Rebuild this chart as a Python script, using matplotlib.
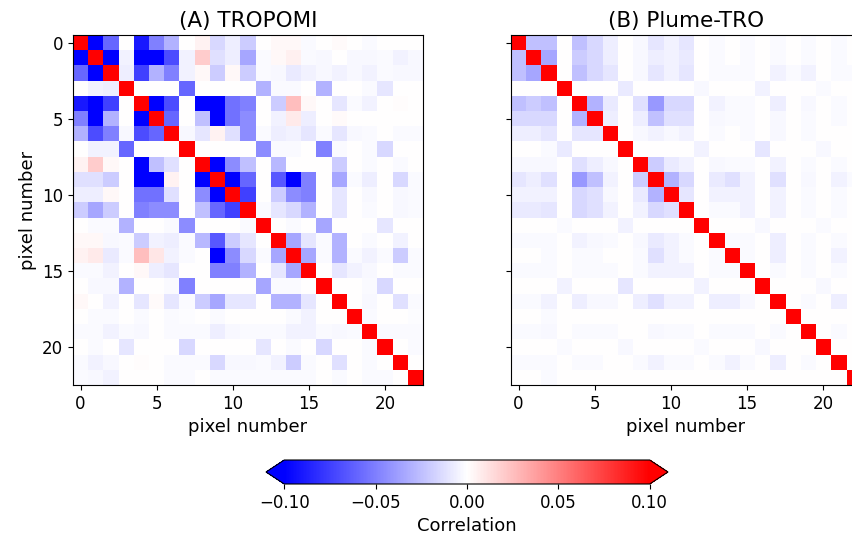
import numpy as np
import matplotlib
matplotlib.use('Agg')
import matplotlib.pyplot as plt

# correlation values in units of 0.01 (diagonal = 1.0 -> 100)
corr_tropomi = [
    [100, -10, -6, 0, -9, -5, -3, 0, 0.5, -1.5, -0.7, -2, 0, 0.3, 0.3, -0.2, 0, 0.2, 0, -0.2, 0, 0, 0],
    [-10, 100, -10, -0.5, -10, -10, -7, -0.5, 2, -1.2, -0.7, -3.5, -0.2, 0.3, 0.6, -0.2, -0.3, 0, -0.3, -0.3, -0.2, -0.5, -0.3],
    [-6, -10, 100, -0.7, -7.5, -3, -5, -0.5, 0.3, -2, 0.3, -2, -0.2, -0.3, -0.8, -0.5, -0.3, -0.5, -0.3, -0.5, -0.2, -0.3, -0.3],
    [0, -0.5, -0.7, 100, 0, 0, 0, -6, 0, 0, 0, 0, -3, -0.2, -0.2, 0, -3, 0, 0, -0.2, -1, 0, 0],
    [-9, -10, -7.5, 0, 100, -10, -7, 0, -10, -10, -5.5, -5, 0, -2, 2.5, 0.3, 0, -1, -0.2, -0.5, 0, 0.1, 0],
    [-5, -10, -3, 0, -10, 100, -6, 0, -2.5, -10, -5.5, -4.5, 0, -0.5, 0.8, -0.7, 0, 0.2, 0, 0, 0, 0, 0],
    [-3, -7, -5, -0.3, -7, -6, 100, -0.3, -1, 0.5, -1.2, -4.5, -0.2, -0.7, -0.5, -1, -0.2, -1, -0.3, -0.2, 0, -0.2, -0.2],
    [0, -0.5, -0.5, -6, 0, 0, 0, 100, 0, 0, 0, 0, -4.5, -0.2, -0.2, 0, -5, -0.2, 0, -0.2, -1.5, 0, 0],
    [0.5, 2, 0.3, 0, -10, -2.5, -1.2, 0, 100, -10, -4.5, -2.5, 0, -2.8, 0, 0, 0, -2, 0, -0.2, 0, -0.2, 0],
    [-1.2, -1.2, -2, 0, -10, -10, 0.5, 0, -10, 100, -10, -6, 0, -6.5, -10, -5, 0, -3.5, -0.2, -0.7, 0, -1.5, -0.2],
    [-0.7, -0.7, 0.3, 0, -5.5, -5.5, -1.2, 0, -4.5, -10, 100, -7.5, 0, -2, -4.5, -5, 0, -1, 0, -0.3, 0, -0.3, -0.2],
    [-2, -3.5, -2, 0, -5, -4.5, -4.5, 0, -2.5, -6, -7.5, 100, -0.2, -1, -1.5, -3, 0, -1, 0, -0.2, 0, -0.3, -0.2],
    [0, -0.2, -0.2, -3, 0, 0, -0.2, -4.5, 0, 0, 0, -0.2, 100, 0, -0.2, 0, -3.5, 0, 0, 0, -1, 0, 0],
    [0.3, 0.3, -0.3, -0.2, -2, -0.5, -0.7, -0.2, -2.8, -6.5, -2, -1, 0, 100, -3.5, -1, -0.2, -3, 0, -0.2, 0, -0.5, 0],
    [0.5, 0.8, -0.8, -0.2, 2.5, 1, -0.5, -0.2, 0, -10, -4.5, -1.5, -0.2, -3.5, 100, -3.5, -0.2, -3, -0.2, -0.5, -0.2, -2, -0.2],
    [-0.2, -0.2, -0.5, 0, 0.3, -0.7, -1, 0, 0, -5, -5, -3, 0, -1, -3.5, 100, 0, -1, -0.5, -0.3, 0, -0.2, -0.2],
    [0, -0.3, -0.3, -3, 0, 0, -0.2, -5, 0, 0, 0, 0, -3.5, -0.2, -0.2, 0, 100, 0, 0, -0.2, -1.5, 0, 0],
    [0.3, 0, -0.5, 0, -1, 0.2, -1, -0.2, -2, -3.5, -1, -1, 0, -3, -3, -1, 0, 100, 0, -0.3, 0, -1.2, -0.2],
    [0, -0.2, -0.2, 0, -0.2, 0, -0.2, -0.1, 0, -0.2, 0, 0, 0, 0, -0.2, -0.5, 0, 0, 100, -0.2, 0, 0, -0.1],
    [-0.2, -0.2, -0.5, -0.2, -0.3, 0, -0.2, -0.2, -0.2, -0.7, -0.3, -0.2, -0.2, -0.2, -0.5, -0.5, -0.2, -0.3, -0.2, 100, -0.2, -0.2, -0.2],
    [0, -0.2, 0, -1, 0, 0, 0, -1.5, 0, 0, 0, 0, -1, 0, -0.2, 0, -1.5, 0, 0, -0.2, 100, 0, -0.2],
    [-0.2, -0.5, -0.3, 0, 0.1, 0, -0.2, -0.2, -0.2, -1.5, -0.3, -0.3, -0.2, -0.5, -2, -0.2, 0, -1.2, 0, -0.2, 0, 100, 0],
    [-0.2, -0.3, -0.5, 0, 0, 0, -0.2, -0.2, 0, -0.2, -0.2, -0.2, -0.2, -0.2, -0.2, -0.2, 0, -0.2, 0, -0.2, -0.2, 0, 100],
]

corr_plume = [
    [100, -2.5, -2.5, 0, -2.5, -1.5, -0.7, 0, -0.3, -1, -0.5, -1, 0, -0.2, 0, -0.2, 0, -0.2, 0, -0.2, 0, -0.2, 0],
    [-2.5, 100, -3.5, 0, -2, -1.5, -0.7, 0, -0.3, -0.7, -0.5, -0.8, 0, -0.2, 0, -0.2, 0, -0.2, 0, -0.2, 0, -0.2, 0],
    [-2.5, -3.5, 100, 0, -2.5, -1.5, -1, 0, -0.3, -1, -0.5, -1, 0, -0.2, -0.2, -0.2, 0, -0.5, -0.2, -0.5, 0, -0.2, -0.2],
    [0, 0, 0, 100, 0, 0, 0, -0.8, 0, 0, 0, 0, -0.3, 0, 0, 0, -0.5, 0, 0, 0, -0.2, 0, 0],
    [-2.5, -2, -2.5, 0, 100, -3, -0.8, 0, -1.2, -4, -1.5, -1.5, 0, -0.5, -0.2, -0.2, 0, -0.7, 0, -0.3, 0, -0.2, 0],
    [-1.5, -1.5, -1.5, 0, -3, 100, -0.7, 0, -0.7, -2.5, -1.2, -1.2, 0, -0.3, -0.2, -0.2, 0, -0.3, 0, -0.2, 0, -0.2, 0],
    [-0.7, -0.7, -1, 0, -1, -1, 100, 0, -0.3, -0.5, -0.3, -0.5, 0, -0.2, 0, -0.2, 0, -0.3, 0, -0.2, 0, 0, 0],
    [0, 0, -0.2, -0.8, 0, 0, 0, 100, 0, 0, 0, 0, -0.5, 0, 0, 0, -1, 0, 0, 0, -0.3, 0, 0],
    [-0.3, -0.3, -0.3, 0, -1.2, -0.7, -0.3, 0, 100, -2, -0.8, -0.5, 0, -0.3, -0.2, -0.2, 0, -0.5, 0, -0.2, 0, -0.2, 0],
    [-1, -0.7, -1.2, 0, -4, -2.5, -0.5, 0, -2, 100, -3, -1.5, 0, -0.8, -1.2, -0.5, 0, -1.2, 0, -0.3, 0, -0.5, -0.2],
    [-0.5, -0.5, -0.5, 0, -1.5, -1.2, -0.3, 0, -0.8, -3, 100, -1, 0, -0.5, -0.5, -0.5, 0, -0.5, 0, -0.2, 0, -0.2, 0],
    [-0.8, -0.8, -1, 0, -1.5, -1.2, -0.5, 0, -0.5, -1.5, -1.2, 100, 0, -0.2, -0.2, -0.5, 0, -0.5, 0, -0.2, 0, -0.2, 0],
    [0, 0, 0, -0.2, 0, 0, 0, -0.5, 0, 0, 0, 0, 100, 0, 0, 0, -0.3, 0, 0, 0, -0.2, 0, 0],
    [-0.2, -0.2, -0.2, 0, -0.5, -0.3, -0.2, 0, -0.3, -0.8, -0.5, -0.2, 0, 100, -0.2, -0.2, 0, -0.7, 0, -0.2, 0, -0.2, 0],
    [0, 0, -0.2, 0, -0.2, -0.2, 0, 0, -0.2, -1.2, -0.5, -0.2, 0, -0.2, 100, -0.2, 0, -0.7, 0, -0.2, 0, -0.5, 0],
    [-0.2, -0.2, -0.2, 0, -0.2, -0.2, -0.2, 0, -0.2, -0.5, -0.5, -0.5, 0, -0.2, -0.2, 100, 0, -0.2, 0, -0.2, 0, -0.2, 0],
    [0, 0, 0, -0.5, 0, 0, 0, -1, 0, 0, 0, 0, -0.5, 0, 0, 0, 100, 0, 0, 0, -0.3, 0, 0],
    [-0.2, -0.2, -0.5, 0, -0.7, -0.3, -0.3, 0, -0.7, -1.2, -0.5, -0.5, 0, -0.7, -0.7, -0.3, 0, 100, 0, -0.2, 0, -0.7, 0],
    [0, 0, -0.2, 0, 0, 0, 0, 0, 0, 0, 0, 0, 0, 0, 0, 0, 0, 0, 100, 0, 0, 0, 0],
    [-0.2, -0.2, -0.3, 0, -0.2, -0.2, -0.2, 0, 0, -0.3, -0.2, -0.2, 0, -0.2, -0.2, -0.2, 0, -0.2, 0, 100, 0, -0.2, 0],
    [0, 0, 0, -0.2, 0, 0, 0, -0.3, 0, 0, 0, 0, -0.2, 0, 0, 0, -0.3, 0, 0, 0, 100, 0, 0],
    [-0.2, -0.2, -0.2, 0, -0.2, -0.2, 0, 0, -0.2, -0.5, -0.2, -0.2, 0, -0.2, -0.5, -0.2, 0, -0.7, 0, -0.2, 0, 100, 0],
    [0, 0, -0.2, 0, 0, 0, 0, 0, 0, 0, 0, 0, 0, 0, 0, 0, 0, 0, 0, 0, 0, 0, 100],
]

titles = ['(A) TROPOMI', '(B) Plume-TRO']
ticks = [0, 5, 10, 15, 20]

plt.rcParams['font.size'] = 12

fig = plt.figure(figsize=(8.52, 5.37), dpi=100)
W, H = 852., 537.
ax_a = fig.add_axes([73 / W, 1 - 385 / H, 350 / W, 350 / H])
ax_b = fig.add_axes([511 / W, 1 - 385 / H, 350 / W, 350 / H], sharey=ax_a)
# colorbar axes includes the extend triangles
cax = fig.add_axes([266 / W, 1 - 484 / H, 402 / W, 24 / H])

for ax, data, title in zip([ax_a, ax_b], [corr_tropomi, corr_plume], titles):
    m = np.array(data) * 0.01
    im = ax.imshow(m, cmap='bwr', vmin=-0.1, vmax=0.1, interpolation='nearest')
    ax.set_title(title, fontsize=15.5)
    ax.set_xticks(ticks)
    ax.set_yticks(ticks)
    ax.set_xlabel('pixel number', fontsize=13)

ax_a.set_ylabel('pixel number', fontsize=13)
plt.setp(ax_b.get_yticklabels(), visible=False)

cb = fig.colorbar(im, cax=cax, orientation='horizontal', extend='both',
                  ticks=[-0.1, -0.05, 0, 0.05, 0.1])
cb.ax.set_xticklabels(['\u22120.10', '\u22120.05', '0.00', '0.05', '0.10'])
cb.set_label('Correlation', fontsize=13)

fig.savefig('out.png', dpi=100)
